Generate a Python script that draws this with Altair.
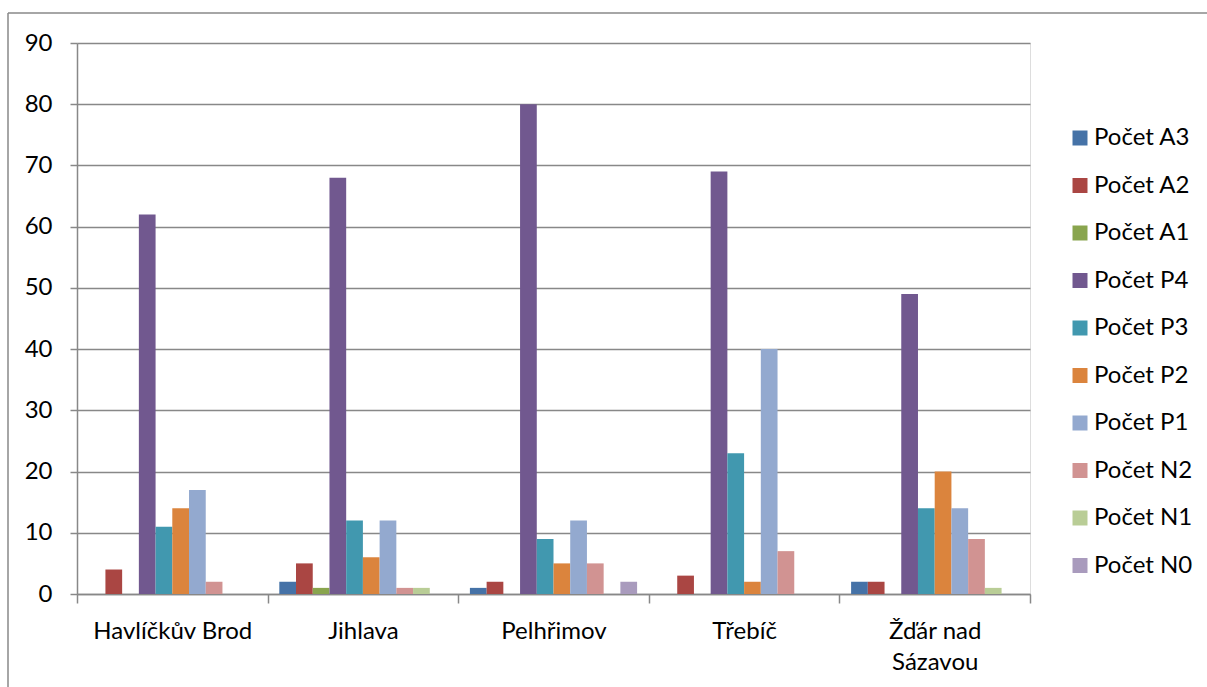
import altair as alt
import pandas as pd

# Districts (x categories) and the series shown for each
districts = ["Havlíčkův Brod", "Jihlava", "Pelhřimov", "Třebíč", "Žďár nad Sázavou"]
series = ["Počet A3", "Počet A2", "Počet A1", "Počet P4", "Počet P3",
          "Počet P2", "Počet P1", "Počet N2", "Počet N1", "Počet N0"]
colors = ["#4572A7", "#AA4643", "#89A54E", "#71588F", "#4198AF",
          "#DB843D", "#93A9CF", "#D19392", "#B9CD96", "#A99BBD"]

# Counts per district, in the order of `series`
havlickuv_brod = [0, 4, 0, 62, 11, 14, 17, 2, 0, 0]
jihlava = [2, 5, 1, 68, 12, 6, 12, 1, 1, 0]
pelhrimov = [1, 2, 0, 80, 9, 5, 12, 5, 0, 2]
trebic = [0, 3, 0, 69, 23, 2, 40, 7, 0, 0]
zdar = [2, 2, 0, 49, 14, 20, 14, 9, 1, 0]

rows = []
for district, values in zip(districts, [havlickuv_brod, jihlava, pelhrimov, trebic, zdar]):
    for name, v in zip(series, values):
        rows.append({"okres": district, "serie": name, "pocet": v})
df = pd.DataFrame(rows)

FONT = "Lato"
FS = 24
GRID = "#888888"

bars = alt.Chart(df).mark_bar().encode(
    x=alt.X("okres:N", sort=districts, title=None,
            scale=alt.Scale(paddingInner=0, paddingOuter=0),
            axis=alt.Axis(tickBand="extent", labelAngle=0, domainColor=GRID, domainWidth=1.5,
                          tickColor=GRID, tickWidth=1.5, tickSize=9, labelPadding=16,
                          labelFont=FONT, labelFontSize=FS, labelColor="black",
                          labelLineHeight=31, labelLimit=300,
                          labelExpr="datum.label == 'Žďár nad Sázavou' ? ['Žďár nad', 'Sázavou'] : datum.label")),
    xOffset=alt.XOffset("serie:N", sort=series,
                        scale=alt.Scale(paddingInner=0, paddingOuter=0.7)),
    y=alt.Y("pocet:Q", title=None,
            scale=alt.Scale(domain=[0, 90], nice=False),
            axis=alt.Axis(values=list(range(0, 91, 10)), domainColor=GRID, domainWidth=1.5,
                          tickColor=GRID, tickWidth=1.5, tickSize=7, labelPadding=18,
                          gridColor=GRID, gridWidth=1.5,
                          labelFont=FONT, labelFontSize=FS, labelColor="black")),
    color=alt.Color("serie:N", sort=series,
                    scale=alt.Scale(domain=series, range=colors),
                    legend=alt.Legend(title=None, orient="none", legendX=991, legendY=83,
                                      symbolType="square", symbolSize=225, symbolStrokeWidth=0,
                                      labelFont=FONT, labelFontSize=FS, labelColor="black",
                                      labelOffset=2, rowPadding=23.5, labelLimit=300)),
)

# Outer frame lines (top and left edges of the chart box)
frame = alt.Chart(alt.Data(values=[{}])).mark_rule(color="#888888", strokeWidth=1.5).encode(
    x=alt.value(-69), x2=alt.value(1130), y=alt.value(-30)
)
frame_left = alt.Chart(alt.Data(values=[{}])).mark_rule(color="#888888", strokeWidth=1.5).encode(
    x=alt.value(-69), y=alt.value(-30), y2=alt.value(644)
)

chart = alt.layer(bars, frame, frame_left).properties(
    width=953, height=551,
    autosize=alt.AutoSizeParams(type="none"),
    padding={"left": 77, "top": 43, "right": 177, "bottom": 93},
).configure_view(stroke=None).configure(background="white")

chart.save("out.html", embed_options={"renderer": "svg", "actions": False})
